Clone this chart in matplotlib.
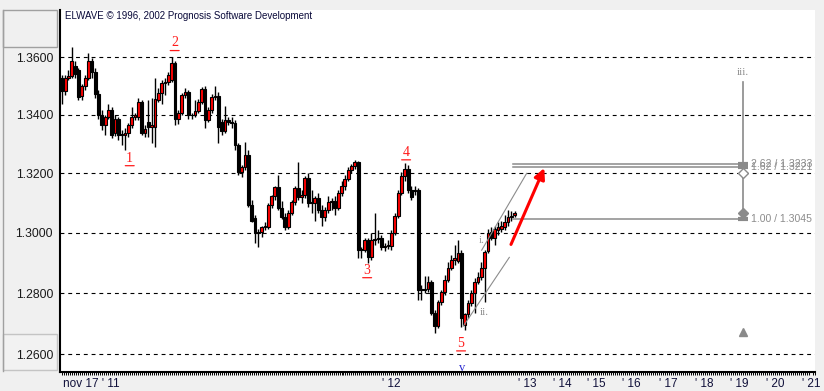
import numpy as np
import matplotlib
matplotlib.use("Agg")
from matplotlib import pyplot as plt
from matplotlib.patches import Rectangle
from matplotlib.lines import Line2D
from matplotlib.transforms import offset_copy
from matplotlib.ticker import MultipleLocator, NullLocator, NullFormatter, FixedLocator

#################################
# data (bars)
#################################
opens = [
    1.3527, 1.3482, 1.3527, 1.3534, 1.3569, 1.3555, 1.3464, 1.3499, 1.3527, 1.3587,
    1.3548, 1.3471, 1.3401, 1.3364, 1.3391, 1.3415, 1.3337, 1.3384, 1.3330, 1.3330,
    1.3337, 1.3364, 1.3391, 1.3391, 1.3443, 1.3337, 1.3377, 1.3357, 1.3357, 1.3450,
    1.3475, 1.3510, 1.3513, 1.3520, 1.3580, 1.3384, 1.3408, 1.3468, 1.3478, 1.3398,
    1.3401, 1.3412, 1.3443, 1.3489, 1.3381, 1.3415, 1.3461, 1.3464, 1.3377, 1.3344,
    1.3381, 1.3374, 1.3371, 1.3296, 1.3204, 1.3221, 1.3262, 1.3092, 1.3048, 1.2998,
    1.3001, 1.3018, 1.3018, 1.3092, 1.3123, 1.3153, 1.3082, 1.3052, 1.3018, 1.3065,
    1.3102, 1.3150, 1.3120, 1.3126, 1.3184, 1.3099, 1.3099, 1.3116, 1.3075, 1.3052,
    1.3075, 1.3102, 1.3106, 1.3082, 1.3133, 1.3157, 1.3180, 1.3211, 1.3225, 1.3238,
    1.2942, 1.2942, 1.2975, 1.2919, 1.2975, 1.2978, 1.2981, 1.2952, 1.2955, 1.2955,
    1.2998, 1.3055, 1.3133, 1.3191, 1.3215, 1.3143, 1.3140, 1.3143, 1.2811, 1.2814,
    1.2814, 1.2837, 1.2735, 1.2693, 1.2771, 1.2804, 1.2844, 1.2883, 1.2909, 1.2906,
    1.2932, 1.2696, 1.2732, 1.2768, 1.2801, 1.2837, 1.2853, 1.2883, 1.2939, 1.3001,
    1.2981, 1.3008, 1.3011, 1.3018, 1.3035, 1.3052, 1.3058]

highs = [
    1.3538, 1.3538, 1.3555, 1.3636, 1.3587, 1.3562, 1.3506, 1.3538, 1.3615, 1.3598,
    1.3562, 1.3485, 1.3415, 1.3398, 1.3439, 1.3426, 1.3398, 1.3394, 1.3347, 1.3354,
    1.3371, 1.3426, 1.3405, 1.3457, 1.3450, 1.3364, 1.3450, 1.3457, 1.3527, 1.3492,
    1.3520, 1.3527, 1.3548, 1.3601, 1.3587, 1.3415, 1.3475, 1.3492, 1.3485, 1.3408,
    1.3450, 1.3454, 1.3496, 1.3499, 1.3426, 1.3471, 1.3499, 1.3478, 1.3387, 1.3429,
    1.3394, 1.3391, 1.3381, 1.3303, 1.3228, 1.3306, 1.3279, 1.3109, 1.3058, 1.3011,
    1.3024, 1.3035, 1.3099, 1.3126, 1.3157, 1.3194, 1.3106, 1.3065, 1.3075, 1.3109,
    1.3157, 1.3238, 1.3143, 1.3191, 1.3201, 1.3143, 1.3123, 1.3133, 1.3092, 1.3085,
    1.3123, 1.3116, 1.3123, 1.3143, 1.3174, 1.3194, 1.3221, 1.3232, 1.3245, 1.3242,
    1.2952, 1.2981, 1.2981, 1.2998, 1.3065, 1.3008, 1.2991, 1.2965, 1.2975, 1.3008,
    1.3065, 1.3143, 1.3204, 1.3235, 1.3228, 1.3157, 1.3157, 1.3150, 1.2827, 1.2857,
    1.2857, 1.2844, 1.2745, 1.2778, 1.2811, 1.2860, 1.2903, 1.2926, 1.2958, 1.2975,
    1.2942, 1.2735, 1.2778, 1.2811, 1.2850, 1.2870, 1.2903, 1.2942, 1.3014, 1.3018,
    1.3024, 1.3035, 1.3041, 1.3058, 1.3075, 1.3072, 1.3072]

lows = [
    1.3439, 1.3468, 1.3520, 1.3527, 1.3527, 1.3450, 1.3450, 1.3485, 1.3520, 1.3527,
    1.3457, 1.3387, 1.3347, 1.3330, 1.3387, 1.3320, 1.3326, 1.3313, 1.3296, 1.3279,
    1.3323, 1.3354, 1.3381, 1.3381, 1.3330, 1.3323, 1.3323, 1.3303, 1.3289, 1.3443,
    1.3439, 1.3468, 1.3503, 1.3513, 1.3364, 1.3367, 1.3398, 1.3457, 1.3387, 1.3384,
    1.3394, 1.3405, 1.3436, 1.3354, 1.3374, 1.3408, 1.3450, 1.3303, 1.3330, 1.3337,
    1.3364, 1.3354, 1.3279, 1.3194, 1.3187, 1.3211, 1.3085, 1.3035, 1.2965, 1.2952,
    1.2985, 1.3008, 1.3011, 1.3082, 1.3109, 1.3075, 1.3045, 1.3008, 1.3011, 1.3058,
    1.3092, 1.3109, 1.3099, 1.3116, 1.3085, 1.3065, 1.3041, 1.3065, 1.3024, 1.3041,
    1.3065, 1.3075, 1.3058, 1.3075, 1.3123, 1.3143, 1.3174, 1.3201, 1.3215, 1.2916,
    1.2916, 1.2935, 1.2899, 1.2909, 1.2958, 1.2965, 1.2942, 1.2939, 1.2945, 1.2942,
    1.2991, 1.3048, 1.3126, 1.3174, 1.3133, 1.3109, 1.3126, 1.2778, 1.2778, 1.2801,
    1.2804, 1.2729, 1.2670, 1.2686, 1.2761, 1.2794, 1.2837, 1.2876, 1.2893, 1.2899,
    1.2690, 1.2680, 1.2719, 1.2758, 1.2735, 1.2830, 1.2844, 1.2771, 1.2932, 1.2975,
    1.2958, 1.2991, 1.3001, 1.3008, 1.3024, 1.3041, 1.3052]

closes = [
    1.3482, 1.3527, 1.3534, 1.3587, 1.3541, 1.3461, 1.3499, 1.3527, 1.3587, 1.3548,
    1.3471, 1.3401, 1.3364, 1.3391, 1.3415, 1.3330, 1.3384, 1.3330, 1.3333, 1.3337,
    1.3364, 1.3391, 1.3398, 1.3443, 1.3337, 1.3350, 1.3357, 1.3364, 1.3454, 1.3475,
    1.3510, 1.3513, 1.3538, 1.3580, 1.3384, 1.3408, 1.3468, 1.3478, 1.3398, 1.3401,
    1.3412, 1.3443, 1.3489, 1.3381, 1.3415, 1.3461, 1.3464, 1.3357, 1.3344, 1.3381,
    1.3374, 1.3371, 1.3296, 1.3204, 1.3221, 1.3262, 1.3092, 1.3041, 1.2998, 1.3001,
    1.3018, 1.3024, 1.3092, 1.3123, 1.3153, 1.3082, 1.3052, 1.3018, 1.3065, 1.3102,
    1.3150, 1.3120, 1.3126, 1.3184, 1.3099, 1.3102, 1.3116, 1.3075, 1.3052, 1.3075,
    1.3102, 1.3106, 1.3082, 1.3133, 1.3157, 1.3180, 1.3211, 1.3225, 1.3238, 1.2942,
    1.2945, 1.2975, 1.2919, 1.2975, 1.2978, 1.2981, 1.2952, 1.2955, 1.2958, 1.2998,
    1.3055, 1.3133, 1.3191, 1.3215, 1.3143, 1.3120, 1.3143, 1.2811, 1.2814, 1.2811,
    1.2837, 1.2735, 1.2693, 1.2771, 1.2804, 1.2844, 1.2883, 1.2909, 1.2916, 1.2932,
    1.2719, 1.2732, 1.2768, 1.2801, 1.2837, 1.2853, 1.2883, 1.2935, 1.2998, 1.2981,
    1.3011, 1.3018, 1.3024, 1.3035, 1.3052, 1.3055, 1.3065]

# wave labels: text, bar position, price
wave_labels = ["1", "2", "3", "4", "5"]
wave_x = [20.4, 33.9, 91.7, 103.4, 119.9]
wave_y = [1.3252, 1.3650, 1.2876, 1.3272, 1.2636]

# price grid and axis labels
yticks = [1.26, 1.28, 1.30, 1.32, 1.34, 1.36]
xtick_pos = [0.4, 98.8, 139.7, 150.2, 160.4, 170.9, 182.0, 192.8, 203.6, 214.4, 225.0]
xtick_lab = ["nov 17 ' 11", "' 12", "' 13", "' 14", "' 15", "' 16", "' 17", "' 18",
             "' 19", "' 20", "' 21"]

# projection (fibonacci targets)
proj_x0 = 135.6
proj_x1 = 204.6
targets = [1.3233, 1.3221, 1.3045]
target_text = ["2.62 / 1.3233", "1.62 / 1.3221", "1.00 / 1.3045"]
proj_top = 1.3513
proj_diamond = 1.3065
proj_open = 1.3200
proj_tri = 1.2673

# sub-wave channel and arrow
chan_up_x = [126.1, 139.6]
chan_up_y = [1.2942, 1.3200]
chan_lo_x = [120.6, 134.4]
chan_lo_y = [1.2692, 1.2918]
arrow_x = [134.9, 144.9]
arrow_y = [1.2961, 1.3218]

#################################
# figure
#################################
W, H = 824, 391
fig = plt.figure(figsize=(W / 100, H / 100), dpi=100, facecolor="#f0f0f0")

def px(x, y):
    return (x / W, 1 - y / H)

ax = fig.add_axes([60 / W, (H - 372) / H, (815 - 60) / W, (372 - 10) / H])
ax.set_facecolor("white")
ax.set_yscale("log")
ax.set_ylim(1.2543, 1.3766)
ax.set_xlim(-0.54, 226.2)

for s in ["top", "right"]:
    ax.spines[s].set_visible(False)
for s in ["left", "bottom"]:
    ax.spines[s].set_linewidth(1.5)
    ax.spines[s].set_color("black")

ax.yaxis.set_major_locator(FixedLocator(yticks))
ax.yaxis.set_minor_locator(NullLocator())
ax.yaxis.set_minor_formatter(NullFormatter())
ax.set_yticklabels(["%.4f" % v for v in yticks], fontsize=8.7,
                   family="Liberation Sans", color="#1a1a1a")
ax.tick_params(axis="y", length=0, pad=5)

ax.set_xticks(xtick_pos)
ax.set_xticklabels(xtick_lab, fontsize=8.5, family="Liberation Sans", color="#10103a")
ax.get_xticklabels()[0].set_horizontalalignment("left")
ax.xaxis.set_minor_locator(MultipleLocator(0.6))
ax.tick_params(axis="x", which="major", length=0, pad=4)
ax.tick_params(axis="x", which="minor", length=2.2, width=0.7, color="black")

for lv in yticks:
    ax.axhline(lv, color="black", lw=0.8, dashes=(3.5, 3.5), zorder=1)

#################################
# candles
#################################
o = np.array(opens); h = np.array(highs); l = np.array(lows); c = np.array(closes)
xs = np.arange(len(o))
up = c > o
ax.vlines(xs, l, h, color="black", lw=1.0, zorder=3)
ax.bar(xs[up], (c - o)[up], bottom=o[up], width=0.85, color="#ff0000",
       edgecolor="black", linewidth=0.8, zorder=4)
ax.bar(xs[~up], (o - c)[~up], bottom=c[~up], width=0.85, color="black",
       edgecolor="black", linewidth=0.8, zorder=4)

#################################
# wave annotations
#################################
red = "#ff1a1a"
for t, x, y in zip(wave_labels, wave_x, wave_y):
    ax.text(x, y, t, color=red, fontsize=10, family="Liberation Serif",
            ha="center", va="center", zorder=5)
    # underline
    tr1 = offset_copy(ax.transData, fig=fig, x=-3.2, y=-5.5, units="points")
    tr2 = offset_copy(ax.transData, fig=fig, x=3.2, y=-5.5, units="points")
    ax.annotate("", xy=(x, y), xycoords=tr2, xytext=(x, y), textcoords=tr1,
                arrowprops=dict(arrowstyle="-", color=red, lw=0.9,
                                shrinkA=0, shrinkB=0))
ax.text(120.3, 1.2557, "v", color="#2a2ad0", fontsize=9, family="Liberation Serif",
        ha="center", va="center", zorder=5, clip_on=False)
ax.text(126.0, 1.2975, "i.", color="#9a9a9a", fontsize=8, family="Liberation Serif",
        ha="center", va="center", zorder=2)
ax.text(127.0, 1.2735, "ii.", color="#8a8a8a", fontsize=8, family="Liberation Serif",
        ha="center", va="center", zorder=5)
ax.text(proj_x1, 1.3548, "iii.", color="#8a8a8a", fontsize=8, family="Liberation Serif",
        ha="center", va="center", zorder=5)

ax.plot(chan_up_x, chan_up_y, color="#8c8c8c", lw=0.8, zorder=5)
ax.plot(chan_lo_x, chan_lo_y, color="#8c8c8c", lw=0.8, zorder=5)

ax.annotate("", xy=(arrow_x[1], arrow_y[1]), xytext=(arrow_x[0], arrow_y[0]),
            arrowprops=dict(arrowstyle="-|>", color="#ff0000", lw=2.2,
                            mutation_scale=16, shrinkA=0, shrinkB=0), zorder=6)

# projection lines
for lv, txt in zip(targets, target_text):
    ax.plot([proj_x0, proj_x1], [lv, lv], color="#8a8a8a", lw=1.1, zorder=5)
    ax.plot([proj_x1], [lv], marker="_", ms=7, mew=3, color="#8a8a8a", zorder=6)
    ax.text(207.0, lv, txt, color="#8c8c8c", fontsize=7.6, family="Liberation Sans",
            ha="left", va="center", zorder=6, clip_on=True)
ax.plot([proj_x1, proj_x1], [proj_top, proj_diamond], color="#8a8a8a", lw=1.2, zorder=5)
ax.plot([proj_x1], [proj_diamond], marker="D", ms=5.5, color="#8a8a8a", zorder=6)
ax.plot([proj_x1], [proj_open], marker="D", ms=5.5, mfc="white", mec="#8a8a8a",
        mew=1.0, zorder=6)
ax.plot([proj_x1], [proj_tri], marker="^", ms=6, color="#8a8a8a", zorder=6)

#################################
# left panel decorations
#################################
gray = "#a0a0a0"
fig.add_artist(Line2D([px(2.5, 0)[0]] * 2, [px(0, 10)[1], px(0, 371)[1]], color=gray, lw=1))
x0, y0 = px(2.5, 47)
x1, y1 = px(57, 10)
fig.add_artist(Rectangle((x0, y0), x1 - x0, y1 - y0, facecolor="#f0f0f0", edgecolor=gray, lw=1))
x0, y0 = px(2.5, 370)
x1, y1 = px(57, 334)
fig.add_artist(Rectangle((x0, y0), x1 - x0, y1 - y0, facecolor="#f2f2f2", edgecolor="#c4c4c4",
                         lw=1, zorder=0))

fig.text(px(65, 16)[0], px(65, 16)[1], "ELWAVE \u00a9 1996, 2002 Prognosis Software Development",
         fontsize=7, family="Liberation Sans", color="#0a0a3a", ha="left", va="center")

fig.savefig("out.png", dpi=100, facecolor=fig.get_facecolor())
